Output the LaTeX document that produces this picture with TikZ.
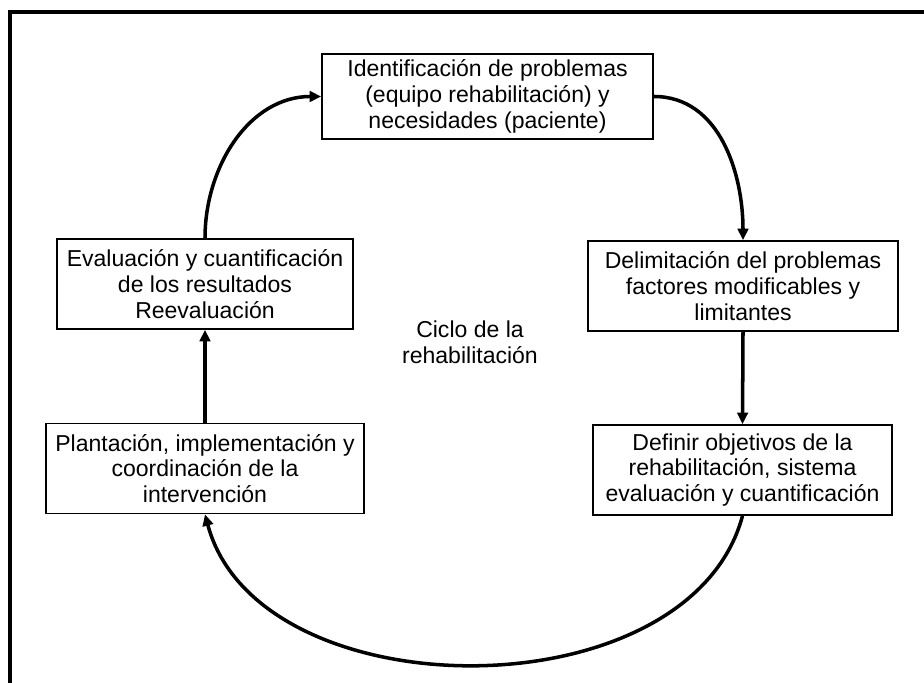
\documentclass[tikz,border=0pt]{standalone}
\usepackage{fontspec}
\setmainfont{Liberation Sans}
\usetikzlibrary{arrows.meta}
\begin{document}
\begin{tikzpicture}[thick,
                    paso/.style = {draw,
                                line width=1pt,
                                align=center,
                                minimum height=1.8cm,
                                inner xsep=2pt,
                                font=\fontsize{13.1}{14.6}\selectfont},
                    flecha/.style = {line width=2pt,
                                -{Triangle[length=6.5pt,width=6pt]}}]
                    \useasboundingbox (0,0) rectangle (18.48,13.66);
                    % Marco
                    \draw [line width=1.8pt] (0.2,0) -- (0.2,13.42) -- (18.48,13.42);
                    % Identificacion
                    \node[paso,minimum width=6.62cm,minimum height=1.7cm] (ident) at (9.75,11.73)
                        {Identificación de problemas\\(equipo rehabilitación) y\\necesidades (paciente)};
                    % Delimitacion
                    \node[paso,minimum width=6.2cm] (delim) at (14.86,7.94)
                        {Delimitación del problemas\\factores modificables y\\limitantes};
                    % Objetivos
                    \node[paso,minimum width=5.98cm] (objet) at (14.85,4.26)
                        {Definir objetivos de la\\rehabilitación, sistema\\evaluación y cuantificación};
                    % Plantacion
                    \node[paso,minimum width=6.36cm] (plant) at (4.10,4.29)
                        {Plantación, implementación y\\coordinación de la\\intervención};
                    % Evaluacion
                    \node[paso,minimum width=5.92cm] (evalu) at (4.10,7.98)
                        {Evaluación y cuantificación\\de los resultados\\Reevaluación};
                    % Ciclo label
                    \node[align=center,font=\fontsize{13.1}{14.6}\selectfont] (ciclo) at (9.4,6.82)
                        {Ciclo de la\\rehabilitación};
                    % Flechas
                    \draw[flecha] (ident.east) to[out=0,in=90] (delim.north);
                    \draw[flecha] (delim.south) -- (objet.north);
                    \draw[flecha] (objet.south) to[out=-105,in=-75,looseness=0.98] (plant.south);
                    \draw[flecha] (plant.north) -- (evalu.south);
                    \draw[flecha] (evalu.north) to[out=90,in=180] (ident.west);
                \end{tikzpicture}
\end{document}
